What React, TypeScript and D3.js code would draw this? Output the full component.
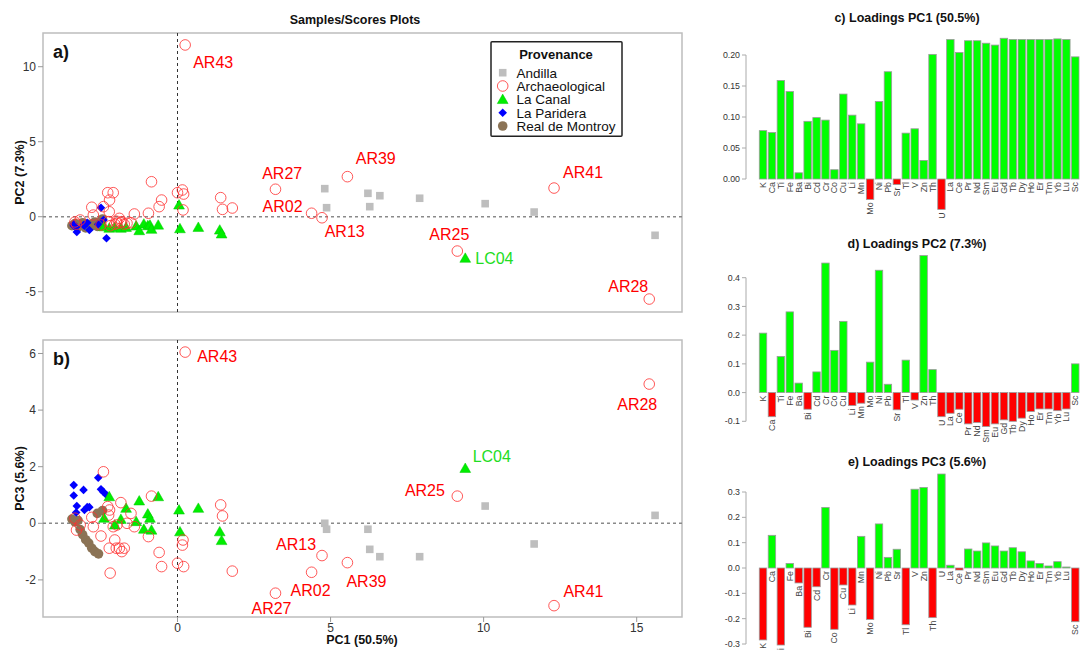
import React from "react";
import * as d3 from "d3";

// ---------- DATA ----------
const elements = ["K","Ca","Ti","Fe","Ba","Bi","Cd","Cr","Co","Cu","Li","Mn","Mo","Ni","Pb","Sr","Tl","V","Zn","Th","U","La","Ce","Pr","Nd","Sm","Eu","Gd","Tb","Dy","Ho","Er","Tm","Yb","Lu","Sc"];
const loadingsPC1 = [0.078,0.075,0.159,0.141,0.010,0.093,0.099,0.095,0.015,0.137,0.103,0.089,-0.033,0.125,0.173,-0.009,0.074,0.081,0.030,0.201,-0.049,0.225,0.204,0.223,0.223,0.219,0.216,0.227,0.225,0.225,0.225,0.225,0.225,0.226,0.225,0.197];
const loadingsPC2 = [0.207,-0.084,0.126,0.281,0.033,-0.058,0.072,0.451,0.147,0.248,-0.045,-0.037,0.106,0.426,0.029,-0.060,0.113,-0.026,0.477,0.080,-0.084,-0.072,-0.058,-0.109,-0.104,-0.118,-0.109,-0.095,-0.100,-0.089,-0.066,-0.057,-0.057,-0.063,-0.057,0.100];
const loadingsPC3 = [-0.284,0.129,-0.304,0.018,-0.059,-0.234,-0.074,0.239,-0.242,-0.067,-0.146,0.125,-0.203,0.174,0.042,0.074,-0.224,0.311,0.318,-0.196,0.371,0.011,-0.008,0.075,0.067,0.099,0.087,0.067,0.080,0.064,0.028,0.018,0.008,0.025,0.004,-0.212];

const provenances = ["Andilla","Archaeological","La Canal","La Paridera","Real de Montroy"];

const andillaPC1 = [4.81,4.87,6.22,6.61,6.28,7.91,10.05,11.65,15.6];
const andillaPC2 = [1.87,0.60,1.56,1.40,0.67,1.23,0.87,0.31,-1.24];
const andillaPC3 = [0.00,-0.21,-0.21,-1.18,-0.92,-1.18,0.61,-0.73,0.28];

const archNames = ["AR43","AR27","AR39","AR02","AR13","AR41","AR25","AR28"];
const archPC1 = [0.25,3.2,5.55,4.38,4.72,12.3,9.14,15.41,
  -3.35,-3.3,-3.18,-2.8,-2.75,-2.5,-2.42,-2.28,-2.25,-2.22,-2.23,-2.2,-2.1,-2.05,-1.98,-2.0,-1.9,-1.85,-1.82,-1.74,-1.65,-1.52,-1.41,-0.95,-0.85,-0.6,-0.52,0.0,0.16,0.2,0.18,1.41,1.47,1.79];
const archPC2 = [11.45,1.83,2.67,0.23,-0.07,1.91,-2.29,-5.49,
  -0.35,-0.5,-0.22,0.63,0.11,-0.55,0.67,1.6,-0.33,1.11,0.33,-0.6,1.6,-0.5,-0.44,-0.3,-0.11,-0.4,-0.33,-0.5,-0.44,-0.4,0.18,0.23,2.33,0.67,1.11,1.6,1.78,1.51,0.45,1.27,0.49,0.58];
const archPC3 = [6.05,-2.47,-1.39,-1.73,-1.14,-2.91,0.96,4.92,
  0.18,-0.24,-0.06,0.21,-0.12,-0.45,1.82,0.59,0.29,0.47,-0.88,-1.76,-0.12,-0.59,-0.06,-0.88,-0.88,0.73,-1.0,-0.88,0.0,0.35,-0.12,-0.47,0.96,-1.03,-1.53,-1.41,-0.77,-1.53,-0.59,0.65,0.26,-1.69];

const canalNames = ["LC04"];
const canalPC1 = [9.4,-2.4,-2.23,-2.05,-1.85,-1.68,-1.35,-1.25,-1.1,-0.97,-0.9,-0.85,-0.63,0.05,0.08,0.68,1.38,1.44];
const canalPC2 = [-2.77,-0.67,-0.77,-0.71,-0.77,-0.71,-0.62,-0.93,-0.49,-0.6,-0.56,-0.84,-0.56,0.78,-0.8,-0.71,-0.89,-1.15];
const canalPC3 = [1.94,0.18,0.94,-0.06,0.14,0.53,0.06,0.79,-0.21,0.33,0.18,-0.24,0.94,0.47,-0.3,0.53,-0.3,-0.61];

const parideraPC1 = [-3.39,-3.39,-3.31,-3.29,-3.07,-3.04,-2.95,-2.88,-2.59,-2.5,-2.42,-2.32];
const parideraPC2 = [-0.6,-0.5,-0.7,-1.02,-0.55,-0.6,-0.4,-0.89,-0.5,0.6,-0.22,-1.44];
const parideraPC3 = [1.35,0.98,0.38,0.61,1.18,0.47,0.57,0.57,1.61,1.2,1.11,1.0];

const montroyPC1 = [-3.45,-3.35,-3.25,-3.18,-3.1,-3.0,-2.9,-2.8,-2.7,-2.62,-2.58,-2.45];
const montroyPC2 = [-0.6,-0.45,-0.7,-0.55,-0.4,-0.75,-0.5,-0.6,-0.35,-0.65,-0.45,-0.15];
const montroyPC3 = [0.15,0.05,0.1,-0.22,-0.4,-0.58,-0.7,-0.88,-1.0,0.35,-1.08,0.45];

const pc1Ticks = [0,5,10,15];
const pc2Ticks = [-5,0,5,10];
const pc3Ticks = [-2,0,2,4,6];

// ---------- STYLE / LAYOUT ----------
const FONT = "'Liberation Sans', Arial, Helvetica, sans-serif";
const COLORS: Record<string,string> = {
  "Andilla": "#BEBEBE",
  "Archaeological": "#FF3030",
  "La Canal": "#00EE00",
  "La Paridera": "#0000FF",
  "Real de Montroy": "#8B7355",
};
const labelOffsetsA: Record<string,[number,number]> = {
  AR43:[8,22.7], AR27:[-13.3,-10], AR02:[-49,-1.6], AR39:[8.3,-12.7], AR13:[2.7,19.7],
  AR25:[-28,-11.3], LC04:[10,5.7], AR41:[9,-9.6], AR28:[-41,-6.6],
};
const labelOffsetsB: Record<string,[number,number]> = {
  LC04:[7.4,-5.9], AR25:[-52.4,-0.3], AR13:[-46,-5.7], AR02:[-21,23.4], AR39:[-1,24],
  AR41:[9.4,-8.3], AR27:[-24,20.4], AR43:[12,9.7], AR28:[-32,25.7],
};

type Sample = { g: string; pc1: number; pc2: number; pc3: number; name: string };
function build(g: string, a: number[], b: number[], c: number[], names: string[] = []): Sample[] {
  return a.map((v, i) => ({ g, pc1: v, pc2: b[i], pc3: c[i], name: names[i] || "" }));
}
const samples: Sample[] = [
  ...build("Real de Montroy", montroyPC1, montroyPC2, montroyPC3),
  ...build("La Paridera", parideraPC1, parideraPC2, parideraPC3),
  ...build("Andilla", andillaPC1, andillaPC2, andillaPC3),
  ...build("La Canal", canalPC1, canalPC2, canalPC3, canalNames),
  ...build("Archaeological", archPC1, archPC2, archPC3, archNames),
];

function Mark({ g, x, y }: { g: string; x: number; y: number }) {
  const c = COLORS[g];
  if (g === "Andilla") return <rect x={x - 3.8} y={y - 3.8} width={7.6} height={7.6} fill={c} />;
  if (g === "Archaeological") return <circle cx={x} cy={y} r={5.3} fill="none" stroke={c} strokeOpacity={0.8} strokeWidth={1} />;
  if (g === "La Canal") {
    const s = 5.4;
    return <polygon points={`${x},${y - s} ${x - s},${y + s * 0.75} ${x + s},${y + s * 0.75}`} fill={c} stroke="#00c800" strokeWidth={0.5} />;
  }
  if (g === "La Paridera") {
    const s = 4.3;
    return <polygon points={`${x},${y - s} ${x + s},${y} ${x},${y + s} ${x - s},${y}`} fill={c} />;
  }
  return <circle cx={x} cy={y} r={4.8} fill={c} />;
}

const BOX_X0 = 43, BOX_X1 = 682;
const xScale = d3.scaleLinear().domain([-4.394, 16.48]).range([BOX_X0, BOX_X1]);

function ScatterPanel({ y0, y1, yDomain, yTicks, key2, letter, yTitle, offsets, showX }:
  { y0: number; y1: number; yDomain: [number, number]; yTicks: number[]; key2: "pc2" | "pc3"; letter: string; yTitle: string; offsets: Record<string,[number,number]>; showX: boolean }) {
  const yScale = d3.scaleLinear().domain(yDomain).range([y1, y0]);
  const cy = (y0 + y1) / 2;
  return (
    <g>
      <rect x={BOX_X0} y={y0} width={BOX_X1 - BOX_X0} height={y1 - y0} fill="white" stroke="#bdbdbd" strokeWidth={1.5} />
      {yTicks.map(t => (
        <g key={t}>
          <line x1={BOX_X0 - 5} x2={BOX_X0} y1={yScale(t)} y2={yScale(t)} stroke="#999" />
          <text x={BOX_X0 - 7} y={yScale(t)} dy="0.35em" textAnchor="end" fontSize={12} fill="#333">{t}</text>
        </g>
      ))}
      {showX && pc1Ticks.map(t => (
        <g key={t}>
          <line x1={xScale(t)} x2={xScale(t)} y1={y1} y2={y1 + 5} stroke="#999" />
          <text x={xScale(t)} y={y1 + 15} textAnchor="middle" fontSize={12} fill="#333">{t}</text>
        </g>
      ))}
      <line x1={xScale(0)} x2={xScale(0)} y1={y0} y2={y1} stroke="#333" strokeWidth={1} strokeDasharray="3,3" />
      <line x1={BOX_X0} x2={BOX_X1} y1={yScale(0)} y2={yScale(0)} stroke="#8a8a8a" strokeWidth={1.5} strokeDasharray="3,3" />
      {samples.map((s, i) => <Mark key={i} g={s.g} x={xScale(s.pc1)} y={yScale(s[key2])} />)}
      {samples.filter(s => s.name).map(s => {
        const o = offsets[s.name] || [8, 0];
        return (
          <text key={s.name} x={xScale(s.pc1) + o[0]} y={yScale(s[key2]) + o[1]} fontSize={16}
            fill={s.g === "La Canal" ? "#22dd22" : "#FF0000"}>{s.name}</text>
        );
      })}
      <text x={53} y={y0 + 25} fontSize={18} fontWeight="bold" fill="#111">{letter}</text>
      <text transform={`translate(24,${cy}) rotate(-90)`} textAnchor="middle" fontSize={12.5} fontWeight="bold" fill="#111">{yTitle}</text>
    </g>
  );
}

const barX = d3.scaleBand<string>().domain(elements).range([758.55, 1079.75]).paddingInner(1 / 6).paddingOuter(1 / 12);

function LoadingsPanel({ values, title, titleX, titleY, domain, range, ticks, fmt }:
  { values: number[]; title: string; titleX: number; titleY: number; domain: [number, number]; range: [number, number]; ticks: number[]; fmt: string }) {
  const y = d3.scaleLinear().domain(domain).range(range);
  const f = d3.format(fmt);
  const AX = 746;
  const tmin = d3.min(ticks)!, tmax = d3.max(ticks)!;
  return (
    <g>
      <text x={titleX} y={titleY} textAnchor="middle" fontSize={12.5} fontWeight="bold" fill="#111">{title}</text>
      <line x1={AX} x2={AX} y1={y(tmin)} y2={y(tmax)} stroke="#aaa" />
      {ticks.map(t => (
        <g key={t}>
          <line x1={AX - 4} x2={AX} y1={y(t)} y2={y(t)} stroke="#aaa" />
          <text x={AX - 6} y={y(t)} dy="0.35em" textAnchor="end" fontSize={8.8} fill="#333">{f(t).replace("−", "-")}</text>
        </g>
      ))}
      {elements.map((e, i) => {
        const v = values[i];
        const bx = barX(e)!;
        const top = y(Math.max(0, v)), bot = y(Math.min(0, v));
        return (
          <g key={e}>
            <rect x={bx} y={top} width={barX.bandwidth()} height={Math.max(0.5, bot - top)}
              fill={v >= 0 ? "#00FF00" : "#FF0000"} stroke="#9a9a9a" strokeWidth={0.8} />
            <text transform={`translate(${bx + barX.bandwidth() / 2},${bot + 3}) rotate(-90)`} textAnchor="end"
              dy="0.35em" fontSize={8.8} fill="#444">{e}</text>
          </g>
        );
      })}
    </g>
  );
}

function Legend() {
  const x0 = 491, y0 = 41.7;
  const rows = [72.7, 86, 99.5, 112.8, 126];
  return (
    <g>
      <rect x={x0} y={y0} width={131} height={94.5} fill="white" stroke="#222" strokeWidth={1.5} rx={1} />
      <text x={556} y={58.5} textAnchor="middle" fontSize={13} fontWeight="bold" fill="#111">Provenance</text>
      {provenances.map((p, i) => (
        <g key={p}>
          <Mark g={p} x={502.7} y={rows[i]} />
          <text x={516.5} y={rows[i]} dy="0.36em" fontSize={13.5} fill="#111">{p}</text>
        </g>
      ))}
    </g>
  );
}

export default function App() {
  return (
    <svg width={1080} height={650} style={{ display: "block", position: "absolute", left: 0, top: 0, background: "white", fontFamily: FONT }}>
      <rect width={1080} height={650} fill="white" />
      <text x={355} y={24} textAnchor="middle" fontSize={12.5} fontWeight="bold" fill="#111">Samples/Scores Plots</text>
      <ScatterPanel y0={33} y1={312} yDomain={[-6.353, 12.247]} yTicks={pc2Ticks} key2="pc2" letter="a)" yTitle="PC2 (7.3%)" offsets={labelOffsetsA} showX={false} />
      <ScatterPanel y0={340} y1={617} yDomain={[-3.311, 6.477]} yTicks={pc3Ticks} key2="pc3" letter="b)" yTitle="PC3 (5.6%)" offsets={labelOffsetsB} showX={true} />
      <text x={362} y={644} textAnchor="middle" fontSize={12.5} fontWeight="bold" fill="#111">PC1 (50.5%)</text>
      <Legend />
      <LoadingsPanel values={loadingsPC1} title="c) Loadings PC1 (50.5%)" titleX={907} titleY={22} domain={[0, 0.2]} range={[179, 55]} ticks={[0, 0.05, 0.1, 0.15, 0.2]} fmt=".2f" />
      <LoadingsPanel values={loadingsPC2} title="d) Loadings PC2 (7.3%)" titleX={917} titleY={248} domain={[-0.1, 0.4]} range={[421.3, 277.7]} ticks={[-0.1, 0, 0.1, 0.2, 0.3, 0.4]} fmt=".1f" />
      <LoadingsPanel values={loadingsPC3} title="e) Loadings PC3 (5.6%)" titleX={917} titleY={466} domain={[-0.3, 0.3]} range={[644, 492]} ticks={[-0.3, -0.2, -0.1, 0, 0.1, 0.2, 0.3]} fmt=".1f" />
    </svg>
  );
}
